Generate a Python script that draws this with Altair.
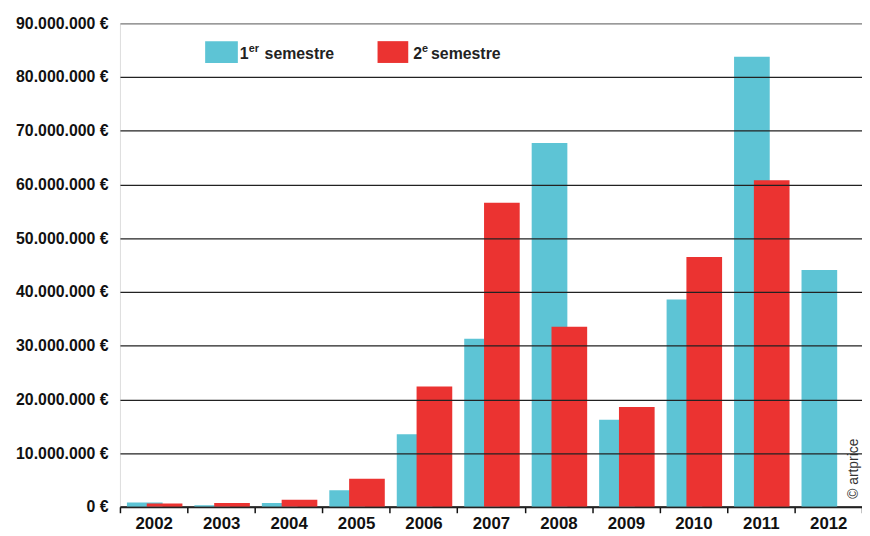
import altair as alt
import pandas as pd

years = [str(y) for y in range(2002, 2013)]
sem1 = [0.8e6, 0.3e6, 0.7e6, 3.1e6, 13.5e6, 31.3e6, 67.7e6, 16.2e6, 38.6e6, 83.8e6, 44.1e6]
sem2 = [0.6e6, 0.7e6, 1.3e6, 5.2e6, 22.4e6, 56.6e6, 33.5e6, 18.6e6, 46.5e6, 60.8e6, None]
y_ticks = [i * 10_000_000 for i in range(10)]

CYAN = "#5DC4D5"
RED = "#EB3331"
FONT = "Liberation Sans, Arial, sans-serif"

df1 = pd.DataFrame({"year": years, "value": sem1})
df2 = pd.DataFrame({"year": [y for y, v in zip(years, sem2) if v is not None],
                    "value": [v for v in sem2 if v is not None]})

xscale = alt.Scale(domain=years, paddingInner=0, paddingOuter=0)
yscale = alt.Scale(domain=[0, 90_000_000], nice=False)

xaxis = alt.Axis(title=None, labelAngle=0, tickBand="extent", labelFontSize=17,
                 labelFontWeight="bold", labelColor="#111", labelFont=FONT,
                 domainColor="#111", domainWidth=2, tickColor="#111", tickWidth=1.5,
                 tickSize=6, labelPadding=3)
yaxis = alt.Axis(title=None, values=y_ticks, labelFontSize=16, labelFontWeight="bold",
                 labelColor="#111", labelFont=FONT, labelPadding=12, ticks=False,
                 domain=False, gridWidth=1.3, zindex=1,
                 gridColor={"expr": "datum.value == 90000000 ? '#808080' : '#222'"},
                 labelExpr="replace(format(datum.value, ','), regexp(',', 'g'), '.') + ' €'")

x = alt.X("year:O", scale=xscale, axis=xaxis)
y = alt.Y("value:Q", scale=yscale, axis=yaxis)

bars1 = alt.Chart(df1).mark_bar(size=36, xOffset=-9, color=CYAN).encode(x=x, y=y)
bars2 = alt.Chart(df2).mark_bar(size=36, xOffset=11, color=RED).encode(x=x, y=y)

one = pd.DataFrame({"a": [0]})

def txt(s, xp, yp, size, **kw):
    return alt.Chart(one).mark_text(align="left", baseline="alphabetic", fontSize=size,
                                    fontWeight="bold", font=FONT, color="#222", **kw).encode(
        x=alt.value(xp), y=alt.value(yp), text=alt.value(s))

sw1 = alt.Chart(one).mark_rect(color=CYAN).encode(x=alt.value(86), x2=alt.value(119),
                                                   y=alt.value(18), y2=alt.value(40))
sw2 = alt.Chart(one).mark_rect(color=RED).encode(x=alt.value(260), x2=alt.value(291),
                                                  y=alt.value(18), y2=alt.value(40))

legend = [sw1, sw2,
          txt("1", 121, 36, 16), txt("er", 130, 29, 11), txt("semestre", 146, 36, 16),
          txt("2", 296, 36, 16), txt("e", 305, 29, 11), txt("semestre", 314, 36, 16)]

copyright_ = alt.Chart(one).mark_text(align="left", baseline="middle", angle=270,
                                       fontSize=14, font=FONT, color="#333").encode(
    x=alt.value(741), y=alt.value(480), text=alt.value("© artprice"))

chart = alt.layer(bars1, bars2, *legend, copyright_).properties(
    width=749, height=488,
    autosize=alt.AutoSizeParams(type="none"),
    padding={"left": 113, "top": 13, "right": 0, "bottom": 26},
).configure_view(stroke=None).configure(font=FONT)

chart.save("out.html", embed_options={"renderer": "svg", "actions": False})
